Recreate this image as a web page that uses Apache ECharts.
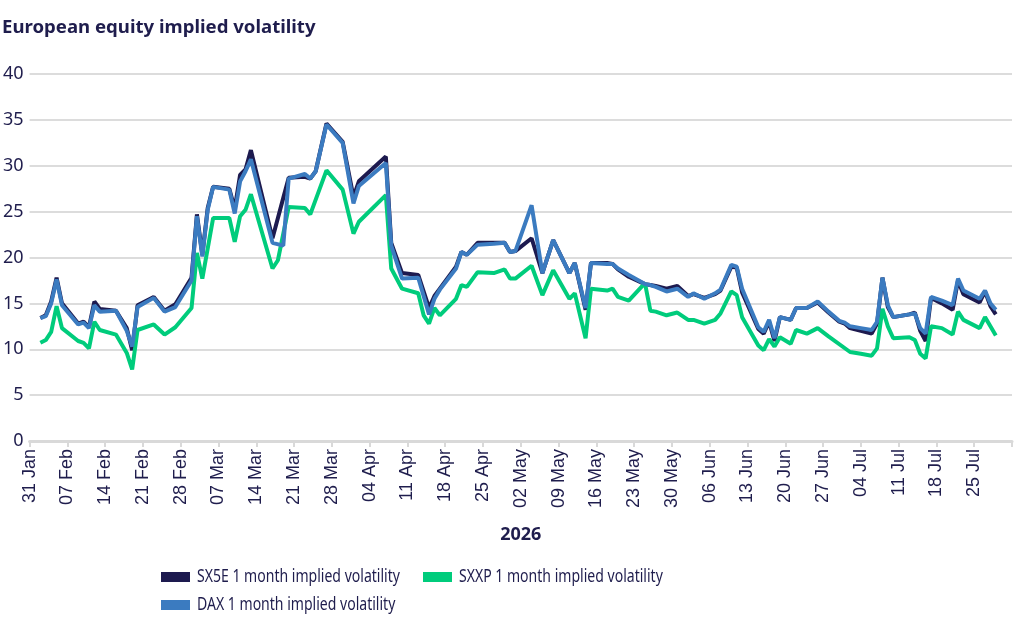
<!DOCTYPE html>
<html lang="en">

<head>
    <meta charset="UTF-8">
    <title>European equity implied volatility</title>
    <style>
        * {
            margin: 0;
            padding: 0;
        }

        #chart {
            width: 1024px;
            height: 641px;
            background-color: #fff;
        }
    </style>
</head>

<body>
    <div id="chart"></div>
    <script src="https://cdn.jsdelivr.net/npm/echarts@6/dist/echarts.min.js"></script>
    <script>
        var dates = [
            '2026-02-02', '2026-02-03', '2026-02-04', '2026-02-05', '2026-02-06', '2026-02-09', '2026-02-10',
            '2026-02-11', '2026-02-12', '2026-02-13', '2026-02-16', '2026-02-18', '2026-02-19', '2026-02-20',
            '2026-02-23', '2026-02-25', '2026-02-27', '2026-03-02', '2026-03-03', '2026-03-04', '2026-03-05',
            '2026-03-06', '2026-03-09', '2026-03-10', '2026-03-11', '2026-03-12', '2026-03-13', '2026-03-17',
            '2026-03-18', '2026-03-19', '2026-03-20', '2026-03-23', '2026-03-24', '2026-03-25', '2026-03-27',
            '2026-03-30', '2026-04-01', '2026-04-02', '2026-04-07', '2026-04-08', '2026-04-10', '2026-04-13',
            '2026-04-14', '2026-04-15', '2026-04-16', '2026-04-17', '2026-04-20', '2026-04-21', '2026-04-22',
            '2026-04-24', '2026-04-27', '2026-04-29', '2026-04-30', '2026-05-01', '2026-05-04', '2026-05-06',
            '2026-05-08', '2026-05-11', '2026-05-12', '2026-05-14', '2026-05-15', '2026-05-18', '2026-05-19',
            '2026-05-20', '2026-05-22', '2026-05-25', '2026-05-26', '2026-05-27', '2026-05-29', '2026-05-31',
            '2026-06-02', '2026-06-03', '2026-06-05', '2026-06-07', '2026-06-08', '2026-06-10', '2026-06-11',
            '2026-06-12', '2026-06-15', '2026-06-16', '2026-06-17', '2026-06-18', '2026-06-19', '2026-06-21',
            '2026-06-22', '2026-06-24', '2026-06-26', '2026-06-28', '2026-06-30', '2026-07-01', '2026-07-02',
            '2026-07-04', '2026-07-06', '2026-07-07', '2026-07-08', '2026-07-09', '2026-07-10', '2026-07-13',
            '2026-07-14', '2026-07-15', '2026-07-16', '2026-07-17', '2026-07-19', '2026-07-21', '2026-07-22',
            '2026-07-23', '2026-07-26', '2026-07-27', '2026-07-28', '2026-07-29'
        ];

        var sx5e = [
            13.4, 13.7, 15.2, 17.8, 15.0, 12.8, 13.0,
            12.4, 15.2, 14.4, 14.2, 12.3, 9.9, 14.8,
            15.7, 14.2, 14.9, 17.8, 24.7, 20.3, 25.4,
            27.7, 27.5, 25.3, 29.0, 29.6, 31.7, 22.1,
            null, 26.5, 28.7, 28.8, 28.6, 29.4, 34.6,
            32.6, 26.6, 28.3, 31.0, 21.6, 18.3, 18.1,
            null, 14.5, 15.8, 16.6, 19.0, 20.6, 20.3,
            21.6, 21.6, 21.6, 20.6, 20.7, 22.1, 18.3,
            21.9, 18.3, 19.4, 14.3, 19.4, 19.4, 19.3,
            18.7, 17.9, 17.1, 17.0, 16.9, 16.6, 16.9,
            15.8, 16.0, 15.6, 16.0, 16.4, 19.0, 18.9,
            16.2, 12.2, 11.7, 13.0, 10.9, 13.5, 13.2,
            14.5, 14.5, 15.1, 14.0, 13.0, 12.8, 12.3,
            12.0, 11.7, 12.8, 17.8, 14.6, 13.5, 13.8,
            14.0, 12.0, 10.9, 15.6, 15.0, 14.3, 17.5,
            16.0, 15.1, 16.3, 14.7, 13.8
        ];

        var sxxp = [
            10.7, 11.0, 11.9, 14.7, 12.3, 10.9, 10.7,
            10.1, 13.0, 12.1, 11.6, 9.6, 7.8, 12.1,
            12.7, 11.6, 12.4, 14.5, 20.5, 17.7, null,
            24.3, 24.3, 21.7, 24.5, 25.2, 26.9, 18.8,
            19.7, null, 25.5, 25.4, 24.7, null, 29.5,
            27.4, 22.6, 23.9, 26.8, 18.8, 16.6, 16.1,
            13.7, 12.8, 14.5, 13.7, 15.5, 17.0, 16.8,
            18.4, 18.3, 18.7, 17.7, 17.7, 19.1, 15.9,
            18.6, 15.5, 16.1, 11.2, 16.6, 16.4, 16.6,
            15.7, 15.3, 17.2, 14.2, 14.1, 13.7, 14.0,
            13.2, 13.2, 12.8, 13.2, 13.9, 16.3, 15.9,
            13.5, 10.4, 9.9, 11.1, 10.3, 11.3, 10.6,
            12.1, 11.7, 12.3, 11.4, null, null, 9.7,
            9.5, 9.3, 10.1, 14.4, 12.5, 11.2, 11.3,
            11.0, 9.5, 9.0, 12.5, 12.3, 11.6, 14.1,
            13.2, 12.3, 13.5, 12.5, 11.5
        ];

        var dax = [
            13.4, 13.6, 15.0, 17.6, 14.8, 12.7, 12.9,
            12.3, 14.8, 14.1, 14.2, 12.0, 10.3, 14.6,
            15.6, 14.1, 14.6, 17.5, 24.5, 20.1, 25.2,
            27.7, 27.4, 24.8, 28.3, 29.4, 30.7, 21.6,
            null, 21.3, 28.6, 29.1, 28.6, 29.4, 34.5,
            32.5, 25.9, 27.8, 30.3, 21.3, 17.7, 17.8,
            null, 13.8, 15.5, 16.5, 18.8, 20.6, 20.3,
            21.4, 21.5, 21.6, 20.6, 20.7, 25.7, 18.3,
            21.9, 18.3, 19.4, 14.5, 19.4, 19.3, 19.3,
            18.8, 18.1, 17.1, 17.0, 16.8, 16.3, 16.6,
            15.7, 16.1, 15.5, 16.1, 16.5, 19.2, 19.0,
            16.6, 12.4, 11.9, 13.2, 11.2, 13.5, 13.2,
            14.5, 14.5, 15.2, 14.1, 13.1, 12.9, 12.5,
            12.3, 12.1, 13.0, 17.8, 14.8, 13.5, 13.8,
            13.9, 12.3, 11.7, 15.7, 15.3, 14.8, 17.7,
            16.4, 15.5, 16.4, 15.0, 14.3
        ];

        var seriesNames = [
            'SX5E 1 month implied volatility',
            'SXXP 1 month implied volatility',
            'DAX 1 month implied volatility'
        ];
        var seriesColors = ['#1d1a4f', '#00cc7c', '#3b7bc0'];

        var axisStart = '2026-01-31';
        var axisDays = 183; // 31 Jan .. 01 Aug
        var months = ['Jan', 'Feb', 'Mar', 'Apr', 'May', 'Jun', 'Jul', 'Aug', 'Sep', 'Oct', 'Nov', 'Dec'];
        var navy = '#1f1d4d';

        function pad(n) {
            return n < 10 ? '0' + n : '' + n;
        }

        // one category per calendar day so weekly ticks land where they should
        function buildDays() {
            var keys = [];
            var labels = [];
            var t0 = Date.parse(axisStart + 'T00:00:00Z');
            for (var i = 0; i < axisDays; i++) {
                var d = new Date(t0 + i * 86400000);
                keys.push(d.getUTCFullYear() + '-' + pad(d.getUTCMonth() + 1) + '-' + pad(d.getUTCDate()));
                labels.push(pad(d.getUTCDate()) + ' ' + months[d.getUTCMonth()]);
            }
            return { keys: keys, labels: labels };
        }

        function toSeriesData(keys, values) {
            var out = [];
            for (var i = 0; i < keys.length; i++) out.push(null);
            for (var j = 0; j < dates.length; j++) {
                var idx = keys.indexOf(dates[j]);
                if (idx !== -1) out[idx] = values[j];
            }
            return out;
        }

        // legend drawn by hand: the reference uses a condensed face, so squeeze the text
        function buildLegend() {
            var spots = [[161, 577], [423, 577], [161, 605]]; // swatch left, row middle
            var items = [];
            for (var i = 0; i < seriesNames.length; i++) {
                items.push({
                    type: 'rect',
                    shape: { x: spots[i][0], y: spots[i][1] - 5, width: 29, height: 10 },
                    style: { fill: seriesColors[i] }
                });
                items.push({
                    type: 'text',
                    x: spots[i][0] + 36,
                    y: spots[i][1],
                    scaleX: 0.78,
                    style: {
                        text: seriesNames[i],
                        fontFamily: '"Noto Sans"',
                        fontSize: 18,
                        fill: navy,
                        verticalAlign: 'middle'
                    }
                });
            }
            return items;
        }

        var days = buildDays();
        var valueSets = [sx5e, sxxp, dax];
        var series = [];
        for (var s = 0; s < valueSets.length; s++) {
            series.push({
                name: seriesNames[s],
                type: 'line',
                data: toSeriesData(days.keys, valueSets[s]),
                connectNulls: true,
                showSymbol: false,
                color: seriesColors[s],
                lineStyle: { width: 4, color: seriesColors[s] },
                emphasis: { disabled: true }
            });
        }

        var option = {
            animation: false,
            title: {
                text: 'European equity implied volatility',
                left: 2,
                top: 18,
                padding: 0,
                textStyle: {
                    fontFamily: '"Noto Sans"',
                    fontSize: 18.6,
                    fontWeight: 'bold',
                    color: navy
                }
            },
            graphic: buildLegend(),
            grid: {
                left: 28,
                right: 12,
                top: 74,
                bottom: 200,
                containLabel: false
            },
            xAxis: {
                type: 'category',
                data: days.labels,
                boundaryGap: false,
                name: '2026',
                nameLocation: 'middle',
                nameGap: 85,
                nameTextStyle: {
                    fontFamily: '"Noto Sans"',
                    fontSize: 18,
                    fontWeight: 'bold',
                    color: navy
                },
                axisLine: { lineStyle: { color: '#d9d9d9', width: 3 } },
                axisTick: {
                    interval: function (i) { return i % 7 === 0; },
                    length: 6,
                    lineStyle: { color: '#d9d9d9', width: 2 }
                },
                axisLabel: {
                    interval: function (i) { return i % 7 === 0 && i < axisDays - 1; },
                    rotate: 90,
                    margin: 8,
                    fontFamily: '"Liberation Sans", Arial',
                    fontSize: 18,
                    color: navy
                },
                splitLine: { show: false }
            },
            yAxis: {
                type: 'value',
                min: 0,
                max: 40,
                interval: 5,
                axisLine: { show: false },
                axisTick: { show: false },
                axisLabel: {
                    margin: 6,
                    fontFamily: '"Noto Sans"',
                    fontSize: 18,
                    color: navy
                },
                splitLine: { lineStyle: { color: '#dcdcdc', width: 2 } }
            },
            series: series
        };

        var myChart = echarts.init(document.getElementById('chart'));
        myChart.setOption(option);
    </script>
</body>

</html>
